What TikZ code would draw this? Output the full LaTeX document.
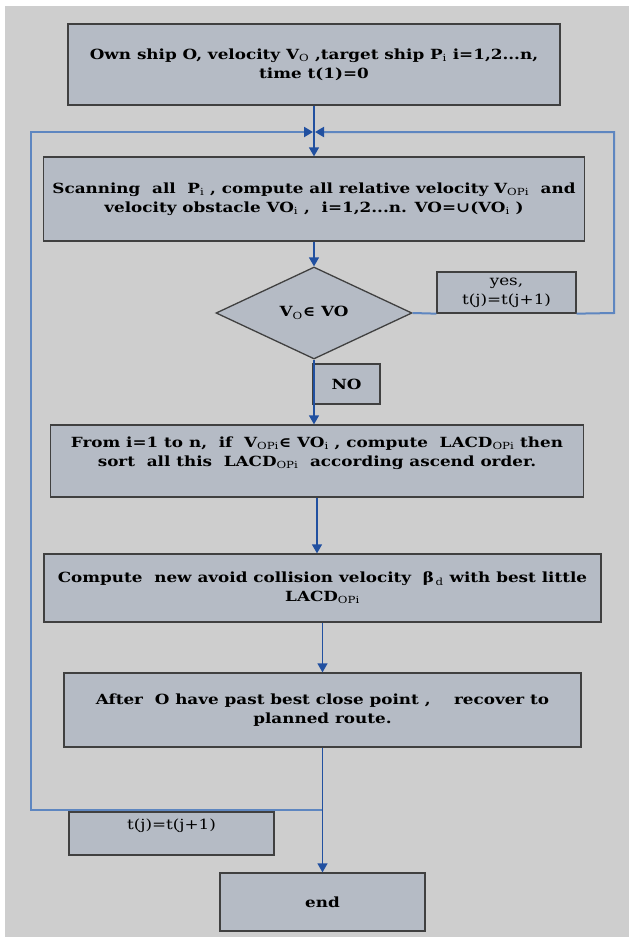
\documentclass[tikz,border=0pt]{standalone}
\usepackage{fontspec}
\setmainfont[FakeStretch=1.2]{DejaVu Serif}
\usetikzlibrary{arrows.meta,shapes.geometric}
\definecolor{bgray}{HTML}{CECECE}
\definecolor{bfill}{HTML}{B5BBC5}
\definecolor{lblue}{HTML}{5E86C0}
\definecolor{dblue}{HTML}{2150A0}
\newcommand{\lo}[1]{\textsubscript{\mdseries#1}}

\begin{document}
\begin{tikzpicture}[
  x=1pt, y=-1pt,
  font=\fontsize{14}{19}\selectfont\bfseries,
  tip/.style={-{Triangle[length=9pt,width=10pt,color=dblue]}},
  box/.style={draw=black!75, line width=1.3pt, fill=bfill, align=center, inner sep=0pt},
  cond/.style={box, diamond, aspect=2.1},
  flow/.style={dblue, line width=1.4pt},
  back/.style={lblue, line width=2pt},
  plain/.style={font=\fontsize{14}{19}\selectfont}
]
\useasboundingbox (0,0) rectangle (629,937);
\fill[bgray] (5,6) rectangle (629,937);

% boxes
\node[box, minimum width=492, minimum height=81] (start) at (314,64.5)
  {Own ship O, velocity V\lo{O} ,target ship P\lo{i} i=1,2...n,\\ time t(1)=0};
\node[box, minimum width=541, minimum height=84] (scan) at (314,199)
  {Scanning\ \ all\ \ P\lo{i} , compute all relative velocity V\lo{OPi}\ \ and\\
   velocity obstacle VO\lo{i} ,\ \ i=1,2...n. VO=∪(VO\lo{i} )};
\node[cond, minimum width=196, minimum height=92] (test) at (314,313) {V\lo{O}∈ VO};
\node[box, plain, minimum width=139, minimum height=41] (yes) at (506.5,292.5) {yes,\\ t(j)=t(j+1)};
\node[box, minimum width=67, minimum height=40] (no) at (346.5,384) {NO};
\node[box, minimum width=533, minimum height=72] (sort) at (317,461)
  {From i=1 to n,\ \ if\ \ V\lo{OPi}∈ VO\lo{i} , compute\ \ LACD\lo{OPi} then\\
   sort\ \ all this\ \ LACD\lo{OPi}\ \ according ascend order.\\ \mbox{}};
\node[box, minimum width=557, minimum height=68] (choose) at (322.5,588)
  {Compute\ \ new avoid collision velocity\ \ β\lo{\,d} with best little\\ LACD\lo{OPi}};
\node[box, minimum width=517, minimum height=74] (recover) at (322.5,710)
  {After\ \ O have past best close point ,\ \ \ \ recover to\\ planned route.};
\node[box, plain, minimum width=205, minimum height=43] (tj) at (171.5,833.5) {t(j)=t(j+1)\\ \mbox{}};
\node[box, minimum width=205, minimum height=58] (stop) at (322.5,902) {end};

% loop lines
\coordinate (top) at (314,132);
\coordinate (jl) at (322.5,810);
\coordinate (lft) at (31,810);
\coordinate (rgt) at (614,313);
\draw[back] (test.east) -- (yes.south west);
\draw[back, tip, shorten >=1pt] (yes.south east) -- (rgt) |- (top);
\draw[back, tip, shorten >=1pt] (jl) -- (lft) |- (top);

% main flow
\draw[flow, tip] (start) -- (scan);
\draw[flow, tip] (scan) -- (test);
\draw[flow, tip] (test.south) -- (test.south |- sort.north);
\draw[flow, tip] (sort.south) -- (sort.south |- choose.north);
\draw[flow, tip] (choose) -- (recover);
\draw[flow, tip] (recover) -- (stop);
\end{tikzpicture}
\end{document}
